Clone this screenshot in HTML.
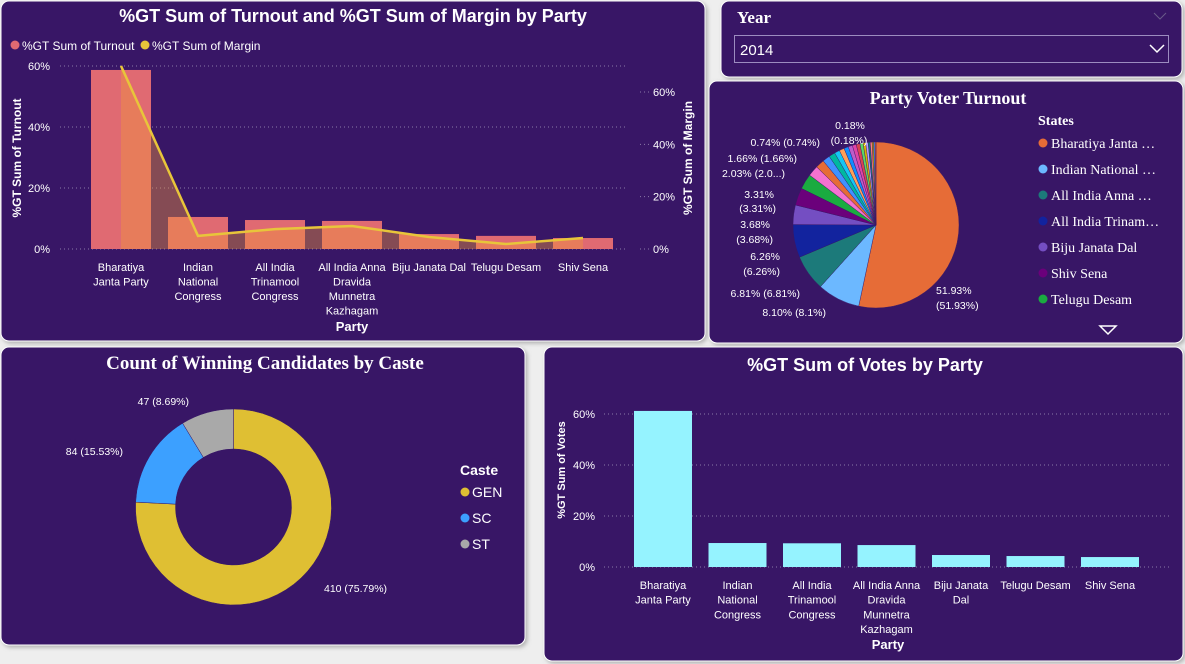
<!DOCTYPE html>
<html><head><meta charset="utf-8">
<style>
body{margin:0;background:#eeeeee;width:1185px;height:664px;overflow:hidden;font-family:"Liberation Sans",sans-serif;}
svg{display:block}
text{fill:#fff}
.nar{font-family:"Liberation Sans Narrow","Liberation Sans",sans-serif}
.ser{font-family:"Liberation Serif",serif;font-weight:bold}
</style></head>
<body>
<svg id="s" width="1185" height="664" xmlns="http://www.w3.org/2000/svg">
<defs><filter id="sh" x="-5%" y="-5%" width="110%" height="110%"><feDropShadow dx="2" dy="2" stdDeviation="2" flood-color="#888" flood-opacity="0.6"/></filter></defs>
<g filter="url(#sh)">
<rect x="1" y="1" width="704" height="340" rx="8" fill="#371766" stroke="#fff"/>
<rect x="721" y="1" width="461" height="76" rx="8" fill="#371766" stroke="#fff"/>
<rect x="709" y="81" width="474" height="262" rx="8" fill="#371766" stroke="#fff"/>
<rect x="1" y="347" width="524" height="298" rx="8" fill="#371766" stroke="#fff"/>
<rect x="544" y="347" width="639" height="314" rx="8" fill="#371766" stroke="#fff"/>
</g>
<!-- Year slicer -->
<text x="737" y="23" class="ser" font-size="17">Year</text>
<path d="M1154 13 l6 6 l6 -6" stroke="#6a5a8a" fill="none"/>
<rect x="734.5" y="35.5" width="434" height="27" fill="none" stroke="#9c8cc0"/>
<text x="740" y="55" font-size="15">2014</text>
<path d="M1150 45 l7 7 l7 -7" stroke="#fff" stroke-width="1.5" fill="none"/>

<!-- Chart 1 -->
<text x="353" y="22" text-anchor="middle" class="nar" font-weight="bold" font-size="18">%GT Sum of Turnout and %GT Sum of Margin by Party</text>
<circle cx="15" cy="45" r="4.5" fill="#e06a72"/>
<text x="22" y="50" class="nar" font-size="12">%GT Sum of Turnout</text>
<circle cx="145" cy="45" r="4.5" fill="#e8c53a"/>
<text x="152" y="50" class="nar" font-size="12">%GT Sum of Margin</text>
<g id="c1"></g>
<!-- Pie -->
<text x="948" y="104" text-anchor="middle" class="ser" font-size="18">Party Voter Turnout</text>
<g id="pie"></g>
<text x="1038" y="125" class="ser" font-size="14">States</text>
<g id="pieleg"></g>
<path d="M1100 326 h16 l-8 8 z" fill="none" stroke="#fff" stroke-width="1.5"/>
<!-- Donut -->
<text x="265" y="369" text-anchor="middle" class="ser" font-size="19">Count of Winning Candidates by Caste</text>
<g id="donut"></g>
<text x="460" y="475" font-weight="bold" font-size="14" class="nar">Caste</text>
<g id="dleg"></g>
<!-- Votes -->
<text x="865" y="371" text-anchor="middle" class="nar" font-weight="bold" font-size="18">%GT Sum of Votes by Party</text>
<g id="c2"></g>
</svg>
<script>
const NS="http://www.w3.org/2000/svg";
const parties=["Bharatiya Janta Party","Indian National Congress","All India Trinamool Congress","All India Anna Dravida Munnetra Kazhagam","Biju Janata Dal","Telugu Desam","Shiv Sena"];
const partyLines=[["Bharatiya","Janta Party"],["Indian","National","Congress"],["All India","Trinamool","Congress"],["All India Anna","Dravida","Munnetra","Kazhagam"],["Biju Janata Dal"],["Telugu Desam"],["Shiv Sena"]];
const turnout=[58.7,10.5,9.5,9.2,4.9,4.3,3.6];
const margin=[70,5,7.6,8.8,4.6,1.9,4.2];
const leftTicks=[0,20,40,60];
const rightTicks=[0,20,40,60];
const votes=[61.2,9.4,9.3,8.6,4.7,4.3,3.9];
const voteLines=[["Bharatiya","Janta Party"],["Indian","National","Congress"],["All India","Trinamool","Congress"],["All India Anna","Dravida","Munnetra","Kazhagam"],["Biju Janata","Dal"],["Telugu Desam"],["Shiv Sena"]];
const voteTicks=[0,20,40,60];
const pieNames=["Bharatiya Janta Party","Indian National Congress","All India Anna Dravida Munnetra Kazhagam","All India Trinamool Congress","Biju Janata Dal","Shiv Sena","Telugu Desam","p8","p9","p10","p11","p12","p13","p14","p15","p16","p17","p18","p19","p20","p21","p22","p23","p24","p25"];
const pieValues=[51.93,8.10,6.81,6.26,3.68,3.31,2.9,2.03,1.66,1.4,1.2,1.0,0.95,0.85,0.8,0.74,0.7,0.6,0.5,0.45,0.4,0.35,0.3,0.25,0.18];
const pieColors=["#e66c37","#6cb8ff","#1c7a7a","#12239e","#744ec2","#6b007b","#1aab40","#f472d0","#e66c37","#4092ff","#00b8a0","#15c6f4","#ffa058","#118dff","#be5dc9","#e044a7","#d64550","#5bd667","#d9b300","#b5a1ff","#197278","#ff8080","#c4a200","#4092ff","#e66c37"];
const legendNames=["Bharatiya Janta …","Indian National …","All India Anna …","All India Trinam…","Biju Janata Dal","Shiv Sena","Telugu Desam"];
const castes=["GEN","SC","ST"];
const casteCounts=[410,84,47];
const casteColors=["#dfbf33","#3ca0ff","#a9a9a9"];

function el(tag,attrs,parent,txt){const e=document.createElementNS(NS,tag);for(const k in attrs)e.setAttribute(k,attrs[k]);if(txt!==undefined)e.textContent=txt;parent.appendChild(e);return e;}

// Chart 1
(function(){
 const g=document.getElementById('c1');
 const y0=249,yL=v=>y0-v*183/60,yR=v=>y0-v*157/60;
 const x=i=>121+i*77, bw=60;
 leftTicks.forEach(t=>{
  const gl=el('line',{x1:60,x2:625,y1:yL(t),y2:yL(t),stroke:'#8a7aa8','stroke-dasharray':'1 3'},g);
  
  const tx=el('text',{x:50,y:yL(t)+4,'text-anchor':'end','font-size':11,class:'nar'},g,t+'%');
  
 });
 rightTicks.forEach(t=>{
  const tk=el('line',{x1:640,x2:650,y1:yR(t),y2:yR(t),stroke:'#8a7aa8','stroke-dasharray':'1 3'},g);
  
  const tx=el('text',{x:653,y:yR(t)+4,'font-size':11,class:'nar'},g,t+'%');
  
 });
 turnout.forEach((v,i)=>{
  const r=el('rect',{x:x(i)-bw/2,y:yL(v),width:bw,height:y0-yL(v),fill:'#e06a72'},g);
  
 });
 let d='M'+x(0)+' '+y0;margin.forEach((v,i)=>d+=' L'+x(i)+' '+yR(v));d+=' L'+x(margin.length-1)+' '+y0+' Z';
 const a=el('path',{d:d,fill:'rgba(240,150,60,0.42)'},g);
 
 const pts=margin.map((v,i)=>x(i)+','+yR(v)).join(' ');
 const l=el('polyline',{points:pts,fill:'none',stroke:'#e8c53a','stroke-width':2.5},g);
 
 partyLines.forEach((ls,i)=>ls.forEach((s,j)=>{
  const t=el('text',{x:x(i),y:271+j*14.5,'text-anchor':'middle','font-size':11,class:'nar'},g,s);
  
 }));
 const xt=el('text',{x:352,y:331,'text-anchor':'middle','font-size':13,'font-weight':'bold',class:'nar'},g,'Party');
 
 const yt=el('text',{transform:'translate(21,158) rotate(-90)','text-anchor':'middle','font-size':12,'font-weight':'bold'},g,'%GT Sum of Turnout');
 
 const yt2=el('text',{transform:'translate(692,158) rotate(-90)','text-anchor':'middle','font-size':12,'font-weight':'bold'},g,'%GT Sum of Margin');
 
})();

// Pie
(function(){
 const g=document.getElementById('pie');
 const cx=876,cy=225,r=83,tot=pieValues.reduce((a,b)=>a+b,0);
 let ang=0;
 pieValues.forEach((v,i)=>{
  const a0=ang,a1=ang+v/tot*2*Math.PI;ang=a1;
  const p=(a)=>[cx+r*Math.sin(a),cy-r*Math.cos(a)];
  const [x0,y0]=p(a0),[x1,y1]=p(a1);
  const s=el('path',{d:`M${cx} ${cy} L${x0} ${y0} A${r} ${r} 0 ${a1-a0>Math.PI?1:0} 1 ${x1} ${y1} Z`,fill:pieColors[i],stroke:'#371766','stroke-width':0.4},g);
  
 });
 const labs=[["51.93%",936,294,'start'],["(51.93%)",936,309,'start'],["8.10% (8.1%)",826,316,'end'],["6.81% (6.81%)",800,297,'end'],["6.26%",780,260,'end'],["(6.26%)",780,275,'end'],["3.68%",770,228,'end'],["(3.68%)",773,243,'end'],["3.31%",774,198,'end'],["(3.31%)",776,212,'end'],["2.03% (2.0...)",785,177,'end'],["1.66% (1.66%)",797,162,'end'],["0.74% (0.74%)",820,146,'end'],["0.18%",850,129,'middle'],["(0.18%)",849,144,'middle']];
 labs.forEach(l=>{const t=el('text',{x:l[1],y:l[2],'text-anchor':l[3],'font-size':10.5},g,l[0]);
  });
 const lg=document.getElementById('pieleg');
 legendNames.forEach((n,i)=>{
  const c=el('circle',{cx:1043,cy:143+i*26,r:4.5,fill:pieColors[i]},lg);
  
  const t=el('text',{x:1051,y:148+i*26,'font-size':14,style:'font-family:"Liberation Serif",serif'},lg,n);
  
 });
})();

// Donut
(function(){
 const g=document.getElementById('donut');
 const cx=233.5,cy=507,R=98,ri=58,tot=casteCounts.reduce((a,b)=>a+b,0);
 let ang=0;
 casteCounts.forEach((v,i)=>{
  const a0=ang,a1=ang+v/tot*2*Math.PI;ang=a1;
  const p=(a,r)=>(cx+r*Math.sin(a))+' '+(cy-r*Math.cos(a));
  const lg=a1-a0>Math.PI?1:0;
  const s=el('path',{d:`M${p(a0,R)} A${R} ${R} 0 ${lg} 1 ${p(a1,R)} L${p(a1,ri)} A${ri} ${ri} 0 ${lg} 0 ${p(a0,ri)} Z`,fill:casteColors[i],stroke:'#371766','stroke-width':0.5},g);
  
 });
 const labs=[[casteCounts[0]+' (75.79%)',324,592,'start'],[casteCounts[1]+' (15.53%)',123,455,'end'],[casteCounts[2]+' (8.69%)',189,405,'end']];
 labs.forEach(l=>{const t=el('text',{x:l[1],y:l[2],'text-anchor':l[3],'font-size':10.5},g,l[0]);
  });
 const dl=document.getElementById('dleg');
 castes.forEach((c,i)=>{
  const d=el('circle',{cx:465,cy:492+i*26,r:4.5,fill:casteColors[i]},dl);
  
  const t=el('text',{x:472,y:497+i*26,'font-size':14,class:'nar'},dl,c);
  
 });
})();

// Votes chart
(function(){
 const g=document.getElementById('c2');
 const y0=567,y=v=>y0-v*153/60,x=i=>663+i*74.5,bw=58;
 voteTicks.forEach(t=>{
  const gl=el('line',{x1:604,x2:1169,y1:y(t),y2:y(t),stroke:'#8a7aa8','stroke-dasharray':'1 3'},g);
  
  const tx=el('text',{x:595,y:y(t)+4,'text-anchor':'end','font-size':11,class:'nar'},g,t+'%');
  
 });
 votes.forEach((v,i)=>{
  const r=el('rect',{x:x(i)-bw/2,y:y(v),width:bw,height:y0-y(v),fill:'#95f3ff'},g);
  
 });
 voteLines.forEach((ls,i)=>ls.forEach((s,j)=>{
  const t=el('text',{x:x(i),y:589+j*14.7,'text-anchor':'middle','font-size':11,class:'nar'},g,s);
  
 }));
 const xt=el('text',{x:888,y:649,'text-anchor':'middle','font-size':13,'font-weight':'bold',class:'nar'},g,'Party');
 
 const yt=el('text',{transform:'translate(565,470) rotate(-90)','text-anchor':'middle','font-size':11,'font-weight':'bold'},g,'%GT Sum of Votes');
 
})();
</script>
</body></html>
